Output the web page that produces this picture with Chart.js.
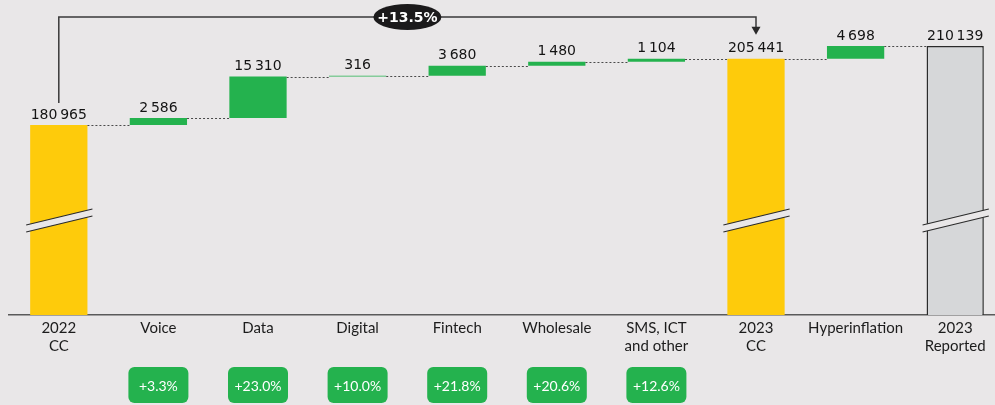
<!DOCTYPE html>
<html>
<head>
<meta charset="utf-8">
<script src="https://cdn.jsdelivr.net/npm/chart.js@4.4.1/dist/chart.umd.min.js"></script>
<style>
  html, body { margin: 0; padding: 0; background: #e9e7e8; overflow: hidden; width: 995px; height: 405px; }
  canvas { display: block; }
</style>
</head>
<body>
<canvas id="waterfall" width="1005" height="405"></canvas>
<script>
const categories = [['2022', 'CC'], 'Voice', 'Data', 'Digital', 'Fintech', 'Wholesale', ['SMS, ICT', 'and other'], ['2023', 'CC'], 'Hyperinflation', ['2023', 'Reported']];
// total = yellow bar, delta = green step, reported = grey outlined bar
const barKinds = ['total', 'delta', 'delta', 'delta', 'delta', 'delta', 'delta', 'total', 'delta', 'reported'];
const barValues = [180965, 2586, 15310, 316, 3680, 1480, 1104, 205441, 4698, 210139];
const growthLabels = ['', '+3.3%', '+23.0%', '+10.0%', '+21.8%', '+20.6%', '+12.6%', '', '', ''];
const overallGrowth = '+13.5%';
const yMin = 110800;
const yMax = 220850;

const BG = '#e9e7e8';
const kindColors = { total: '#fecb0b', delta: '#24b24e', reported: '#d6d7d9' };

// build floating ranges for the waterfall
let running = 0;
const ranges = barValues.map((v, i) => {
  if (barKinds[i] === 'delta') {
    const r = [running, running + v];
    running += v;
    return r;
  }
  running = v;
  return [yMin, v];
});

const fmt = v => String(v).replace(/\B(?=(\d{3})+(?!\d))/g, '\u2009');

const decor = {
  id: 'decor',
  afterDatasetsDraw(chart) {
    const ctx = chart.ctx;
    const bars = chart.getDatasetMeta(0).data;
    const area = chart.chartArea;
    const yScale = chart.scales.y;
    ctx.save();

    // dotted connectors
    ctx.strokeStyle = '#4a4a4a';
    ctx.lineWidth = 1;
    ctx.setLineDash([2, 2]);
    for (let i = 0; i < bars.length - 1; i++) {
      const y = Math.round(yScale.getPixelForValue(ranges[i][1])) + 0.5;
      ctx.beginPath();
      ctx.moveTo(bars[i].x + bars[i].width / 2, y);
      ctx.lineTo(bars[i + 1].x - bars[i + 1].width / 2, y);
      ctx.stroke();
    }
    ctx.setLineDash([]);

    // axis break marks on the tall bars
    const breakY = area.bottom - 86.5;
    bars.forEach((b, i) => {
      if (barKinds[i] === 'delta') return;
      const l = b.x - b.width / 2 - 4, r = b.x + b.width / 2 + 5;
      ctx.fillStyle = BG;
      ctx.beginPath();
      ctx.moveTo(l, breakY - 3.5);
      ctx.lineTo(r, breakY - 19.5);
      ctx.lineTo(r, breakY - 12.5);
      ctx.lineTo(l, breakY + 3.5);
      ctx.closePath();
      ctx.fill();
      ctx.strokeStyle = '#2b2b2b';
      ctx.lineWidth = 1.2;
      ctx.beginPath();
      ctx.moveTo(l, breakY - 3.5);
      ctx.lineTo(r, breakY - 19.5);
      ctx.moveTo(l, breakY + 3.5);
      ctx.lineTo(r, breakY - 12.5);
      ctx.stroke();
    });

    // value labels
    ctx.fillStyle = '#141414';
    ctx.font = '14px "DejaVu Sans"';
    ctx.textAlign = 'center';
    ctx.textBaseline = 'bottom';
    const labelTops = [];
    bars.forEach((b, i) => {
      const top = Math.min(b.y, b.base);
      ctx.fillText(fmt(barValues[i]), b.x, top - 3);
      labelTops.push(top - 3 - 14);
    });

    // overall growth arrow from first to second total
    const from = 0, to = barKinds.indexOf('total', 1);
    const x0 = bars[from].x, x1 = bars[to].x, yTop = area.top;
    ctx.strokeStyle = '#3a3a3a';
    ctx.lineWidth = 1.5;
    ctx.beginPath();
    ctx.moveTo(x0, labelTops[from] - 5);
    ctx.lineTo(x0, yTop);
    ctx.lineTo(x1, yTop);
    ctx.lineTo(x1, labelTops[to] - 14);
    ctx.stroke();
    ctx.fillStyle = '#2a2a2a';
    ctx.beginPath();
    ctx.moveTo(x1 - 4.5, labelTops[to] - 15);
    ctx.lineTo(x1 + 4.5, labelTops[to] - 15);
    ctx.lineTo(x1, labelTops[to] - 7);
    ctx.closePath();
    ctx.fill();

    const mx = (x0 + x1) / 2;
    ctx.fillStyle = '#1b1a1b';
    ctx.beginPath();
    ctx.ellipse(mx, yTop, 34, 13, 0, 0, Math.PI * 2);
    ctx.fill();
    ctx.fillStyle = '#ffffff';
    ctx.font = 'bold 14px "DejaVu Sans"';
    ctx.textBaseline = 'middle';
    ctx.fillText(overallGrowth, mx, yTop + 1);

    // growth boxes under the axis
    ctx.font = '14px Lato';
    bars.forEach((b, i) => {
      if (!growthLabels[i]) return;
      const w = 60, h = 36, y = 367;
      ctx.fillStyle = '#24b24e';
      ctx.beginPath();
      ctx.roundRect(b.x - w / 2, y, w, h, 6);
      ctx.fill();
      ctx.fillStyle = '#ffffff';
      ctx.fillText(growthLabels[i], b.x, y + h / 2 + 1);
    });
    ctx.restore();
  }
};

new Chart(document.getElementById('waterfall'), {
  type: 'bar',
  data: {
    labels: categories,
    datasets: [{
      data: ranges,
      backgroundColor: barKinds.map(k => kindColors[k]),
      borderColor: barKinds.map(k => k === 'reported' ? '#2b2b2b' : 'rgba(0,0,0,0)'),
      borderWidth: barKinds.map(k => k === 'reported' ? { top: 1.5, left: 1.5, right: 1.5, bottom: 0 } : 0),
      borderSkipped: false,
      categoryPercentage: 1,
      barPercentage: 0.575
    }]
  },
  options: {
    responsive: false,
    animation: false,
    layout: { padding: { left: 9, right: 0, top: 17, bottom: 0 } },
    plugins: { legend: { display: false }, tooltip: { enabled: false } },
    scales: {
      x: {
        grid: { display: false },
        border: { color: '#5a5a5a', width: 1.5 },
        ticks: { color: '#1c1c1c', font: { family: 'Lato', size: 15, lineHeight: 1.15 }, padding: -3, maxRotation: 0, autoSkip: false },
        afterFit(scale) { scale.height = 90; }
      },
      y: { display: false, min: yMin, max: yMax }
    }
  },
  plugins: [decor]
});
</script>
</body>
</html>
